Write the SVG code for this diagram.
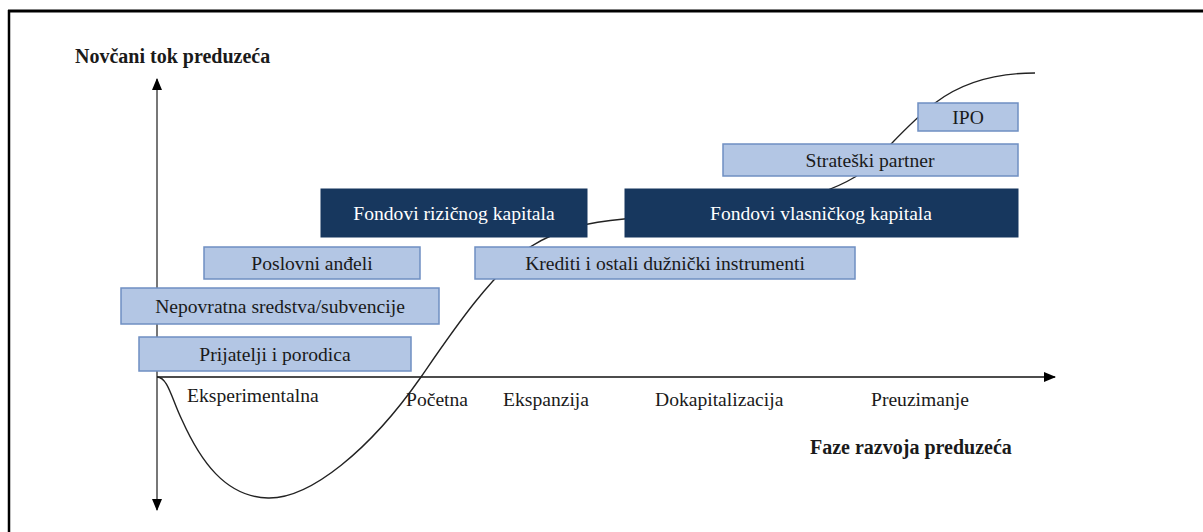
<svg xmlns="http://www.w3.org/2000/svg" width="1203" height="532" viewBox="0 0 1203 532">
<defs>
<style>
.t{font-family:"Liberation Serif","Times New Roman",serif;font-size:19.6px;fill:#1a1a1a}
.b{font-weight:bold;font-size:20px}
.c{text-anchor:middle}
.lb{fill:#b3c6e4;stroke:#6f8fc2;stroke-width:1.5}
.db{fill:#17375e;stroke:#17375e;stroke-width:1}
.w{fill:#ffffff}
.ax{stroke:#555;stroke-width:1.6;fill:none}
</style>
<marker id="ah" markerWidth="12" markerHeight="10" refX="11" refY="5" orient="auto" markerUnits="userSpaceOnUse">
<path d="M0,0 L12,5 L0,10 Z" fill="#000"/>
</marker>
</defs>
<rect x="0" y="0" width="1203" height="532" fill="#fff"/>
<g id="frame">
<line x1="8" y1="11" x2="1203" y2="11" stroke="#000" stroke-width="3"/>
<line x1="9" y1="10" x2="9" y2="532" stroke="#000" stroke-width="2.5"/>
</g>
<g id="connectors">
<line class="ax" x1="157" y1="377" x2="157" y2="79" marker-end="url(#ah)"/>
<line class="ax" x1="157" y1="377" x2="157" y2="510" marker-end="url(#ah)"/>
<line x1="157" y1="377" x2="1055" y2="377" stroke="#111" stroke-width="1.6" marker-end="url(#ah)"/>
<path d="M157,377 C168,377 172,400 182,420 C200,460 225,497 268,498 C310,499 370,450 421,377 C450,335 490,275 530,247 C560,228 590,222 624,219 C720,210 800,210 855,177 C880,160 900,130 935,103 C965,80 1000,73 1035,73" fill="none" stroke="#222" stroke-width="1.4"/>
</g>
<g id="n-prijatelji"><rect class="lb" x="139" y="337" width="272" height="34"/><text class="t c" x="275" y="360.5">Prijatelji i porodica</text></g>
<g id="n-nepovratna"><rect class="lb" x="121" y="288" width="318" height="36"/><text class="t c" x="280" y="312.5">Nepovratna sredstva/subvencije</text></g>
<g id="n-andjeli"><rect class="lb" x="204" y="247" width="216" height="32"/><text class="t c" x="312" y="269.5">Poslovni anđeli</text></g>
<g id="n-krediti"><rect class="lb" x="475" y="247" width="380" height="32"/><text class="t c" x="665" y="269.5">Krediti i ostali dužnički instrumenti</text></g>
<g id="n-rizicni"><rect class="db" x="321" y="189" width="266" height="48"/><text class="t c w" x="454" y="219.5">Fondovi rizičnog kapitala</text></g>
<g id="n-vlasnicki"><rect class="db" x="625" y="189" width="393" height="48"/><text class="t c w" x="821" y="219.5">Fondovi vlasničkog kapitala</text></g>
<g id="n-strateski"><rect class="lb" x="723" y="144" width="295" height="32"/><text class="t c" x="870" y="166.5">Strateški partner</text></g>
<g id="n-ipo"><rect class="lb" x="918" y="103" width="100" height="28"/><text class="t c" x="968" y="123.5">IPO</text></g>
<g id="labels">
<text class="t b" x="75" y="63">Novčani tok preduzeća</text>
<text class="t" x="187" y="402">Eksperimentalna</text>
<text class="t" x="406" y="406">Početna</text>
<text class="t" x="503" y="406">Ekspanzija</text>
<text class="t" x="655" y="406">Dokapitalizacija</text>
<text class="t" x="871" y="406">Preuzimanje</text>
<text class="t b" x="810" y="454">Faze razvoja preduzeća</text>
</g>
</svg>
